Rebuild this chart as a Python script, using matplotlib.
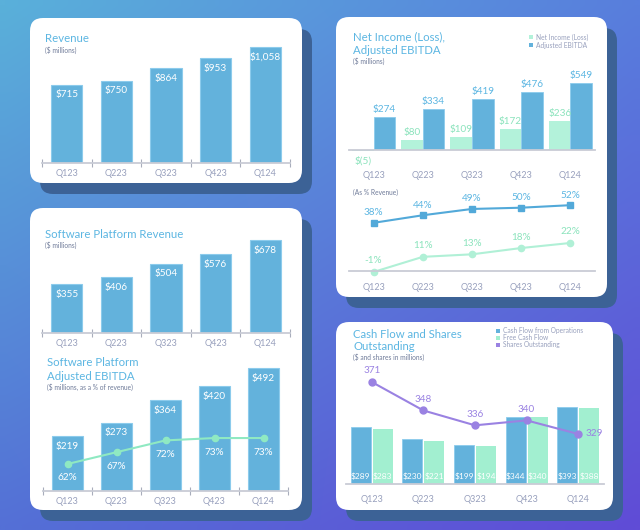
import numpy as np
import matplotlib
matplotlib.use('Agg')
import matplotlib.pyplot as plt
from matplotlib.patches import FancyBboxPatch, Rectangle

plt.rcParams['font.family'] = ['Lato', 'DejaVu Sans']

quarters = ['Q123', 'Q223', 'Q323', 'Q423', 'Q124']
revenue = [715, 750, 864, 953, 1058]
sw_revenue = [355, 406, 504, 576, 678]
sw_ebitda = [219, 273, 364, 420, 492]
sw_ebitda_pct = [62, 67, 72, 73, 73]
net_income = [-5, 80, 109, 172, 236]
adj_ebitda = [274, 334, 419, 476, 549]
net_income_pct = [-1, 11, 13, 18, 22]
adj_ebitda_pct = [38, 44, 49, 50, 52]
cfo = [289, 230, 199, 344, 393]
fcf = [283, 221, 194, 340, 388]
shares = [371, 348, 336, 340, 329]

TITLE = '#5cb6e2'
SUB = '#6f7b99'
TICK = '#98a0bd'
BLUE = '#63b2dc'
BLUE_EDGE = '#8ccbec'
GREEN_BAR = '#b3f2da'
GREEN_BAR2 = '#a2efd0'
GREEN_TXT = '#8be3bc'
GREEN_LINE = '#8fe9c2'
GREEN_LINE2 = '#b0f0d6'
BLUE_LINE = '#52a9d9'
PURPLE = '#9a82e2'
AXIS = '#c9ccd6'
SHADOW = '#3c6296'

W, H = 640, 530
fig = plt.figure(figsize=(6.4, 5.3), dpi=100)
bg = fig.add_axes([0, 0, 1, 1])
bg.axis('off')

tl = np.array([90, 176, 218]) / 255
tr = np.array([88, 126, 221]) / 255
bl = np.array([84, 112, 214]) / 255
br = np.array([96, 76, 214]) / 255
u = np.linspace(0, 1, 64)[None, :, None]
v = np.linspace(0, 1, 53)[:, None, None]
grad = (1 - u) * (1 - v) * tl + u * (1 - v) * tr + (1 - u) * v * bl + u * v * br
bg.imshow(grad, extent=(0, W, H, 0), aspect='auto', interpolation='bilinear', zorder=0)
bg.set_xlim(0, W)
bg.set_ylim(H, 0)


def card(x0, y0, x1, y1, dx=10, dy=11):
    bg.add_patch(FancyBboxPatch((x0 + dx, y0 + dy), x1 - x0, y1 - y0,
                                boxstyle='round,pad=0,rounding_size=13',
                                fc=SHADOW, ec='none', zorder=1))
    bg.add_patch(FancyBboxPatch((x0, y0), x1 - x0, y1 - y0,
                                boxstyle='round,pad=0,rounding_size=13',
                                fc='white', ec='none', zorder=2))


card(30, 18, 302, 183)
card(336, 17, 607, 297)
card(30, 208, 302, 510)
card(336, 322, 613, 510)


def txt(x, y, s, size, color, **kw):
    bg.text(x, y, s, fontsize=size, color=color, va='center', ha=kw.pop('ha', 'left'), zorder=5, **kw)


def px_axes(x0, y0, x1, y1):
    ax = fig.add_axes([x0 / W, 1 - y1 / H, (x1 - x0) / W, (y1 - y0) / H])
    ax.patch.set_alpha(0)
    for s in ['top', 'left', 'right']:
        ax.spines[s].set_visible(False)
    ax.spines['bottom'].set_color(AXIS)
    ax.spines['bottom'].set_linewidth(1.3)
    ax.set_yticks([])
    ax.set_xlim(-0.5, 4.5)
    return ax


def style_x(ax, pad, boundaries=True):
    ax.set_xticks(range(5), quarters)
    ax.tick_params(axis='x', which='major', length=0, pad=pad, labelsize=6.5, labelcolor=TICK)
    if boundaries:
        ax.set_xticks(np.arange(-0.5, 5, 1), minor=True)
        ax.tick_params(axis='x', which='minor', length=6, direction='inout', color='#a8adbb', width=0.8)


PT = 0.72  # points per pixel
TS = 8.2   # title size
VS = 7.2   # value label size

# ---------- Card 1: Revenue ----------
txt(45, 38, 'Revenue', TS, TITLE)
txt(45, 50, '($ millions)', 4.8, SUB)
ax = px_axes(42, 40, 290, 163)
ax.set_ylim(0, 123 / 0.1097)
ax.bar(range(5), revenue, width=0.63, color=BLUE, edgecolor=BLUE_EDGE, lw=0.8)
for i, val in enumerate(revenue):
    ax.annotate(f'${val:,}', (i, val), xytext=(0, -10 * PT), textcoords='offset points',
                ha='center', va='center', color='white', fontsize=VS)
style_x(ax, 4)

# ---------- Card 3: Software Platform Revenue ----------
txt(45, 234, 'Software Platform Revenue', TS, TITLE)
txt(45, 245, '($ millions)', 4.8, SUB)
ax = px_axes(42, 230, 290, 333)
ax.set_ylim(0, 103 / 0.137)
ax.bar(range(5), sw_revenue, width=0.63, color=BLUE, edgecolor=BLUE_EDGE, lw=0.8)
for i, val in enumerate(sw_revenue):
    ax.annotate(f'${val:,}', (i, val), xytext=(0, -10 * PT), textcoords='offset points',
                ha='center', va='center', color='white', fontsize=VS)
style_x(ax, 4)

# ---------- Software Platform Adjusted EBITDA ----------
txt(47, 363, 'Software Platform', TS, TITLE)
txt(47, 376, 'Adjusted EBITDA', TS, TITLE)
txt(47, 387, '($ millions, as a % of revenue)', 4.8, SUB)
ax = px_axes(43, 360, 288, 491)
ax.set_ylim(0, 131 / 0.25)
ax.bar(range(5), sw_ebitda, width=0.63, color=BLUE, edgecolor=BLUE_EDGE, lw=0.8)
for i, val in enumerate(sw_ebitda):
    ax.annotate(f'${val:,}', (i, val), xytext=(0, -10 * PT), textcoords='offset points',
                ha='center', va='center', color='white', fontsize=VS)
style_x(ax, 4)
ax2 = ax.twinx()
ax2.patch.set_alpha(0)
ax2.axis('off')
lo = 62 - (491 - 464) / 2.36
ax2.set_ylim(lo, lo + 131 / 2.36)
ax2.plot(range(5), sw_ebitda_pct, color=GREEN_LINE, lw=1.5, marker='o', ms=4.5)
for i, val in enumerate(sw_ebitda_pct):
    ax2.annotate(f'{val}%', (i, val), xytext=(0, -14 * PT), textcoords='offset points',
                 ha='center', va='center', color='white', fontsize=VS)

# ---------- Card 2: Net Income / Adjusted EBITDA ----------
txt(353, 37, 'Net Income (Loss),', TS, TITLE)
txt(353, 51, 'Adjusted EBITDA', TS, TITLE)
txt(353, 61, '($ millions)', 4.8, SUB)
bg.add_patch(Rectangle((529, 35), 4, 4, fc=GREEN_BAR, ec='none', zorder=5))
bg.add_patch(Rectangle((529, 43), 4, 4, fc=BLUE, ec='none', zorder=5))
txt(536, 37.5, 'Net Income (Loss)', 4.8, TICK)
txt(536, 45.5, 'Adjusted EBITDA', 4.8, TICK)

ax = px_axes(349, 70, 595, 150)
ax.set_ylim(0, 80 / 0.122)
w = 0.437
ax.bar(np.arange(5) - w / 2, net_income, width=w, color=GREEN_BAR, clip_on=False)
ax.bar(np.arange(5) + w / 2, adj_ebitda, width=w, color=BLUE, edgecolor=BLUE_EDGE, lw=0.6)
for i, val in enumerate(net_income):
    if val >= 0:
        ax.annotate(f'${val}', (i - w / 2, val), xytext=(0, 3 * PT), textcoords='offset points',
                    ha='center', va='bottom', color=GREEN_TXT, fontsize=VS)
    else:
        ax.annotate(f'$({-val})', (i - w / 2, 0), xytext=(0, -6 * PT), textcoords='offset points',
                    ha='center', va='top', color=GREEN_TXT, fontsize=VS, annotation_clip=False)
for i, val in enumerate(adj_ebitda):
    ax.annotate(f'${val}', (i + w / 2, val), xytext=(0, 3 * PT), textcoords='offset points',
                ha='center', va='bottom', color=TITLE, fontsize=VS)
style_x(ax, 15, boundaries=False)

txt(353, 192, '(As % Revenue)', 4.8, SUB)
ax = px_axes(349, 195, 595, 271)
ax.set_ylim((270.7 - 271) / 1.26, (270.7 - 195) / 1.26)
ax.plot(range(5), adj_ebitda_pct, color=BLUE_LINE, lw=1.5, marker='s', ms=4.5)
ax.plot(range(5), net_income_pct, color=GREEN_LINE2, lw=1.5, marker='o', ms=4.5, clip_on=False)
for i, val in enumerate(adj_ebitda_pct):
    ax.annotate(f'{val}%', (i, val), xytext=(0, 10 * PT), textcoords='offset points',
                ha='center', va='center', color=TITLE, fontsize=VS, annotation_clip=False)
for i, val in enumerate(net_income_pct):
    ax.annotate(f'{val}%', (i, val), xytext=(0, 11 * PT), textcoords='offset points',
                ha='center', va='center', color=GREEN_TXT, fontsize=VS, annotation_clip=False)
style_x(ax, 9, boundaries=False)

# ---------- Card 4: Cash Flow and Shares Outstanding ----------
txt(353, 334, 'Cash Flow and Shares', TS, TITLE)
txt(353, 346, 'Outstanding', TS, TITLE)
txt(353, 357, '($ and shares in millions)', 4.8, SUB)
for k, (lab, col) in enumerate([('Cash Flow from Operations', BLUE),
                                ('Free Cash Flow', GREEN_BAR2),
                                ('Shares Outstanding', PURPLE)]):
    yy = 331 + k * 7
    bg.add_patch(Rectangle((496, yy - 2), 4, 4, fc=col, ec='none', zorder=5))
    txt(503, yy, lab, 4.8, TICK)

ax = px_axes(346, 365, 604, 484)
ax.set_ylim(0, 119 / 0.196)
w = 0.39
off = 0.213
ax.bar(np.arange(5) - off, cfo, width=w, color=BLUE, edgecolor=BLUE_EDGE, lw=0.6)
ax.bar(np.arange(5) + off, fcf, width=w, color=GREEN_BAR2)
for i in range(5):
    ax.annotate(f'${cfo[i]}', (i - off, 0), xytext=(0, 8 * PT), textcoords='offset points',
                ha='center', va='center', color='white', fontsize=6)
    ax.annotate(f'${fcf[i]}', (i + off, 0), xytext=(0, 8 * PT), textcoords='offset points',
                ha='center', va='center', color='white', fontsize=6)
style_x(ax, 8, boundaries=False)
ax2 = ax.twinx()
ax2.patch.set_alpha(0)
ax2.axis('off')
lo = 371 - (484 - 382) / 1.238
ax2.set_ylim(lo, lo + 119 / 1.238)
ax2.plot(range(5), shares, color=PURPLE, lw=1.5, marker='o', ms=5)
for i, val in enumerate(shares):
    if i < 4:
        ax2.annotate(f'{val}', (i, val), xytext=(0, 11 * PT), textcoords='offset points',
                     ha='center', va='center', color=PURPLE, fontsize=VS)
    else:
        ax2.annotate(f'{val}', (i, val), xytext=(16 * PT, 0), textcoords='offset points',
                     ha='center', va='center', color=PURPLE, fontsize=VS)

fig.savefig('out.png', dpi=100)
